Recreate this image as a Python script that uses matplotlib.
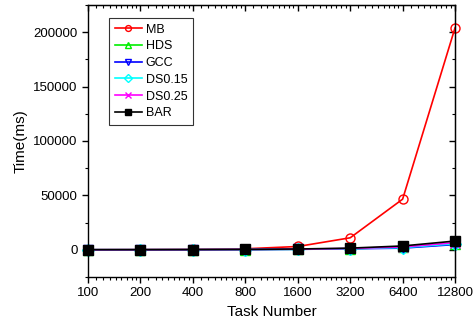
import matplotlib
matplotlib.use("Agg")
import matplotlib.pyplot as plt
from matplotlib.ticker import FixedLocator, MultipleLocator, NullFormatter
import numpy as np

matplotlib.rcParams['font.family'] = ['Liberation Sans', 'DejaVu Sans']
matplotlib.rcParams['font.size'] = 9

tasks = [100, 200, 400, 800, 1600, 3200, 6400, 12800]
tick_labels = ['100', '200', '400', '800', '1600', '3200', '6400', '12800']

mb = [50, 150, 350, 900, 3000, 11000, 46500, 204000]
hds = [20, 40, 90, 200, 450, 1000, 2200, 5200]
gcc = [20, 40, 80, 180, 400, 900, 1500, 4800]
ds015 = [20, 40, 90, 200, 450, 1000, 2000, 5500]
ds025 = [25, 50, 110, 250, 550, 1200, 2600, 6500]
bar = [30, 60, 130, 300, 700, 1500, 3500, 8000]

series = [
    ('MB', mb, 'red', 'o', 'none'),
    ('HDS', hds, '#00ee00', '^', 'none'),
    ('GCC', gcc, 'blue', 'v', 'none'),
    ('DS0.15', ds015, 'cyan', 'D', 'none'),
    ('DS0.25', ds025, 'magenta', 'x', None),
    ('BAR', bar, 'black', 's', 'black'),
]

fig = plt.figure(figsize=(4.76, 3.27), dpi=100)
ax = fig.add_axes([0.185, 0.153, 0.771, 0.832])

for name, vals, col, mk, fc in series:
    kw = dict(color=col, marker=mk, label=name, linewidth=1.2, markersize=6.5,
              markeredgewidth=1.0, clip_on=False)
    if fc is not None:
        kw['markerfacecolor'] = fc
    ax.plot(tasks, vals, **kw)

ax.set_xscale('log', base=2)
ax.set_xlim(100, 12800)
ax.set_ylim(-25000, 225000)

ax.xaxis.set_major_locator(FixedLocator(tasks))
ax.set_xticklabels(tick_labels)
minors = [t * (1 + k / 9) for t in tasks[:-1] for k in range(1, 9)]
ax.xaxis.set_minor_locator(FixedLocator(minors))
ax.xaxis.set_minor_formatter(NullFormatter())

ax.yaxis.set_major_locator(MultipleLocator(50000))
ax.yaxis.set_minor_locator(MultipleLocator(25000))

ax.tick_params(which='both', direction='out', top=False, right=False, labelsize=9.5)
ax.tick_params(which='major', length=4, width=1)
ax.tick_params(which='minor', length=2, width=0.8)

# mirrored axes with inward ticks
axt = ax.secondary_xaxis('top')
axt.xaxis.set_major_locator(FixedLocator(tasks))
axt.xaxis.set_minor_locator(FixedLocator(minors))
axt.tick_params(which='both', direction='in', labeltop=False)
axt.tick_params(which='major', length=4, width=1)
axt.tick_params(which='minor', length=2, width=0.8)
axt.set_xticklabels([])

axr = ax.secondary_yaxis('right')
axr.yaxis.set_major_locator(MultipleLocator(50000))
axr.yaxis.set_minor_locator(MultipleLocator(25000))
axr.tick_params(which='both', direction='in', labelright=False)
axr.tick_params(which='major', length=4, width=1)
axr.tick_params(which='minor', length=2, width=0.8)

for s in ax.spines.values():
    s.set_linewidth(1.0)

ax.set_xlabel('Task Number', fontsize=11)
ax.set_ylabel('Time(ms)', fontsize=11)

leg = ax.legend(loc='upper left', bbox_to_anchor=(0.04, 0.975), fontsize=9,
                frameon=True, fancybox=False, edgecolor='black',
                handlelength=2.2, handletextpad=0.3, labelspacing=0.38,
                borderpad=0.45, markerscale=0.65)
leg.get_frame().set_linewidth(0.8)

fig.savefig('out.png', dpi=100)
